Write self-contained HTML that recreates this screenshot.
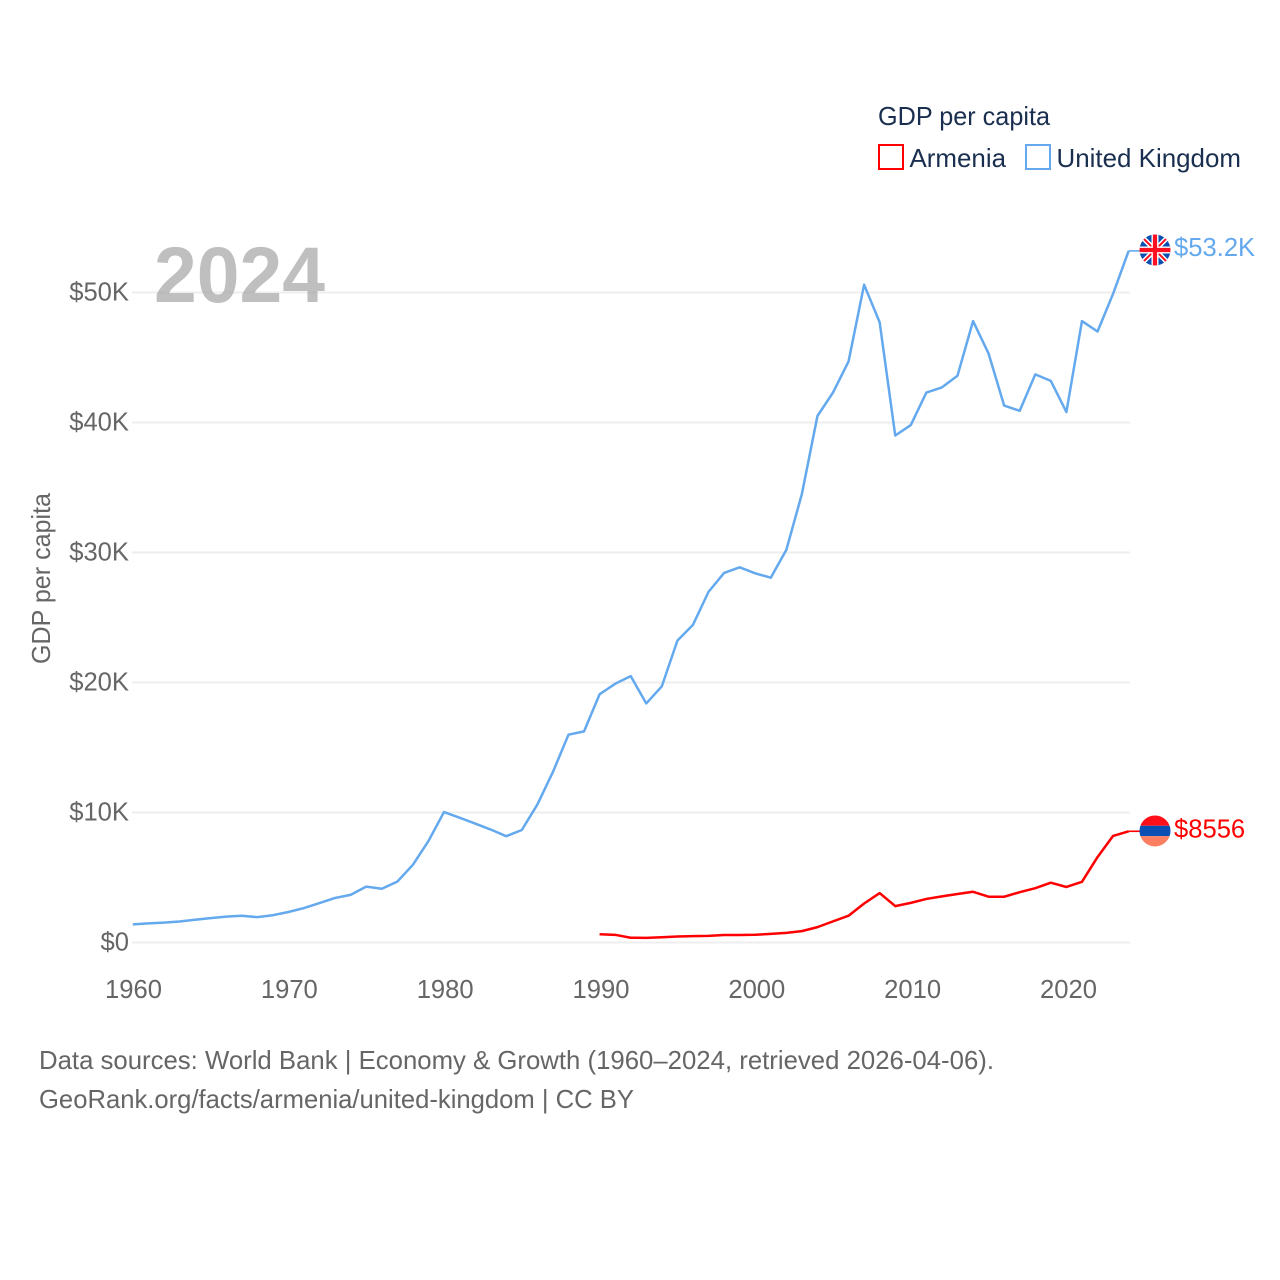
<!DOCTYPE html>
<html lang="en">
<head>
<meta charset="utf-8">
<title>GDP per capita: Armenia and United Kingdom</title>
<style>
html,body{margin:0;padding:0;background:#fff;width:1280px;height:1280px;overflow:hidden}
svg{display:block}
text{font-family:"Liberation Sans",sans-serif}
</style>
</head>
<body>
<svg id="chart" xmlns="http://www.w3.org/2000/svg" width="1280" height="1280" viewBox="0 0 1280 1280">
  <defs>
    <clipPath id="flag-clip"><circle cx="0" cy="0" r="15.5"/></clipPath>
  </defs>
  <rect x="0" y="0" width="1280" height="1280" fill="#ffffff"/>
  <g id="grid"></g>
  <text x="154" y="302" font-size="79" font-weight="700" fill="#a6a6a6" fill-opacity="0.72" textLength="171" lengthAdjust="spacingAndGlyphs">2024</text>
  <g id="y-axis"></g>
  <g id="x-axis"></g>
  <g id="series"></g>

  <text transform="translate(50 578.5) rotate(-90)" text-anchor="middle" font-size="25.6" fill="#666666" textLength="171" lengthAdjust="spacingAndGlyphs">GDP per capita</text>

  <g>
    <text x="878" y="125" font-size="25.6" fill="#1a2f4f" textLength="172" lengthAdjust="spacingAndGlyphs">GDP per capita</text>
    <g>
      <rect x="879" y="145" width="24" height="24" fill="none" stroke="#ff0000" stroke-width="2"/>
      <text x="909.5" y="167" font-size="25.6" fill="#1a2f4f" textLength="96.5" lengthAdjust="spacingAndGlyphs">Armenia</text>
    </g>
    <g>
      <rect x="1026" y="145" width="24" height="24" fill="none" stroke="#64a9ee" stroke-width="2"/>
      <text x="1056.5" y="167" font-size="25.6" fill="#1a2f4f" textLength="184.5" lengthAdjust="spacingAndGlyphs">United Kingdom</text>
    </g>
  </g>

  <g id="flag-uk">
    <g clip-path="url(#flag-clip)">
      <rect x="-16" y="-16" width="32" height="32" fill="#0a4fb0"/>
      <path d="M-16 -16L16 16M16 -16L-16 16" stroke="#ffffff" stroke-width="5"/>
      <path d="M-16 -16L16 16M16 -16L-16 16" stroke="#ff1020" stroke-width="2"/>
      <path d="M0 -16V16M-16 0H16" stroke="#ffffff" stroke-width="7"/>
      <path d="M0 -16V16M-16 0H16" stroke="#ff1020" stroke-width="4.2"/>
    </g>
  </g>
  <g id="flag-am">
    <g clip-path="url(#flag-clip)">
      <rect x="-16" y="-16" width="32" height="10.8" fill="#ff0f19"/>
      <rect x="-16" y="-5.2" width="32" height="10.4" fill="#0a50b4"/>
      <rect x="-16" y="5.2" width="32" height="10.8" fill="#fb7f60"/>
    </g>
  </g>
  <text id="label-uk" x="1174" font-size="25.6" fill="#64a9ee"></text>
  <text id="label-am" x="1174" font-size="25.6" fill="#ff0000"></text>

  <g>
    <text x="39" y="1069" font-size="25.6" fill="#666666" textLength="955" lengthAdjust="spacingAndGlyphs">Data sources: World Bank | Economy &amp; Growth (1960–2024, retrieved 2026-04-06).</text>
    <text x="39" y="1108" font-size="25.6" fill="#666666" textLength="595" lengthAdjust="spacingAndGlyphs">GeoRank.org/facts/armenia/united-kingdom | CC BY</text>
  </g>
</svg>
<script>
var ukStartYear = 1960;
var armeniaStartYear = 1990;
var ukValues = [1397,1472,1525,1613,1748,1874,1987,2059,1951,2100,2348,2649,3030,3426,3666,4300,4138,4681,5977,7804,10032,9599,9146,8691,8179,8652,10612,13118,15987,16239,19095,19900,20487,18389,19709,23223,24437,26970,28429,28860,28400,28060,30200,34500,40500,42300,44700,50600,47700,39000,39800,42300,42700,43600,47800,45300,41300,40900,43700,43200,40800,47800,47000,49900,53200];
var armeniaValues = [637,590,367,356,402,457,493,509,580,580,594,660,740,874,1182,1625,2060,3000,3800,2800,3050,3350,3550,3730,3900,3520,3520,3870,4180,4600,4270,4670,6570,8200,8556];
var yTickValues = [0,10000,20000,30000,40000,50000];
var yTickLabels = ["$0","$10K","$20K","$30K","$40K","$50K"];
var xTickValues = [1960,1970,1980,1990,2000,2010,2020];
var xTickLabels = ["1960","1970","1980","1990","2000","2010","2020"];
var ukEndLabel = "$53.2K";
var armeniaEndLabel = "$8556";

var NS = "http://www.w3.org/2000/svg";
function xScale(year){ return 132.8 + (year - 1960) * 15.56; }
function xTickScale(year){ return 133.5 + (year - 1960) * 15.583; }
function yScale(v){ return 942.5 - v * 0.013; }
function make(tag, parent, attrs){
  var el = document.createElementNS(NS, tag);
  for (var k in attrs) el.setAttribute(k, attrs[k]);
  parent.appendChild(el);
  return el;
}
var grid = document.getElementById("grid");
var yAxis = document.getElementById("y-axis");
var xAxis = document.getElementById("x-axis");
var seriesG = document.getElementById("series");

yTickValues.forEach(function(v, i){
  var line = make("line", grid, {x1:132, x2:1130, y1:yScale(v), y2:yScale(v), stroke:"#eeeeee", "stroke-width":2});
  
  
  var t = make("text", yAxis, {x:129, y:yScale(v) + 8, "text-anchor":"end", "font-size":25.6, fill:"#666666"});
  t.textContent = yTickLabels[i];
  
  
});
xTickValues.forEach(function(v, i){
  var t = make("text", xAxis, {x:xTickScale(v), y:998, "text-anchor":"middle", "font-size":25.6, fill:"#666666"});
  t.textContent = xTickLabels[i];
  
  
});
function pathFor(values, startYear){
  return values.map(function(v, i){
    return (i ? "L" : "M") + xScale(startYear + i).toFixed(2) + " " + yScale(v).toFixed(2);
  }).join("");
}
var ukLast = ukValues[ukValues.length - 1];
var amLast = armeniaValues[armeniaValues.length - 1];

var amLine = make("path", seriesG, {d:pathFor(armeniaValues, armeniaStartYear), fill:"none", stroke:"#ff0000", "stroke-width":2.5, "stroke-linejoin":"round"});


var ukLine = make("path", seriesG, {d:pathFor(ukValues, ukStartYear), fill:"none", stroke:"#64a9ee", "stroke-width":2.5, "stroke-linejoin":"round"});



var ukEndX = xScale(ukStartYear + ukValues.length - 1);
var amEndX = xScale(armeniaStartYear + armeniaValues.length - 1);
var ukConn = make("line", seriesG, {x1:ukEndX, x2:1140, y1:yScale(ukLast), y2:yScale(ukLast), stroke:"#64a9ee", "stroke-width":1.6});


var amConn = make("line", seriesG, {x1:amEndX, x2:1140, y1:yScale(amLast), y2:yScale(amLast), stroke:"#ff0000", "stroke-width":1.6});



document.getElementById("flag-uk").setAttribute("transform", "translate(1155 " + (yScale(ukLast) - 0.9) + ")");
document.getElementById("flag-am").setAttribute("transform", "translate(1155 " + (yScale(amLast) - 0.3) + ")");
var lu = document.getElementById("label-uk");
lu.textContent = ukEndLabel;
lu.setAttribute("y", yScale(ukLast) + 5);
var la = document.getElementById("label-am");
la.textContent = armeniaEndLabel;
la.setAttribute("y", yScale(amLast) + 6);
</script>
</body>
</html>
